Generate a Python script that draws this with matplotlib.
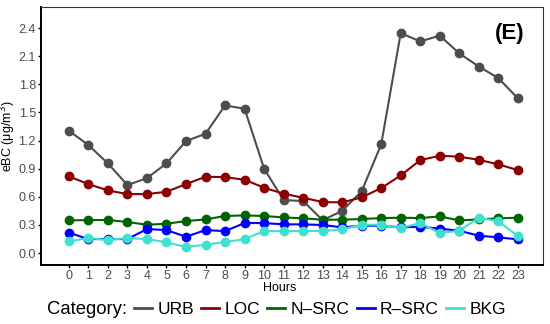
import matplotlib
matplotlib.use("Agg")
import matplotlib.pyplot as plt
from matplotlib.lines import Line2D

hours = list(range(24))
urb = [1.305, 1.152, 0.956, 0.725, 0.80, 0.956, 1.195, 1.273, 1.575, 1.54, 0.90, 0.565,
       0.555, 0.35, 0.45, 0.66, 1.16, 2.347, 2.258, 2.32, 2.13, 1.99, 1.867, 1.65]
loc = [0.818, 0.736, 0.668, 0.629, 0.629, 0.654, 0.736, 0.814, 0.81, 0.782, 0.697, 0.633,
       0.59, 0.544, 0.54, 0.594, 0.693, 0.828, 0.992, 1.038, 1.028, 0.995, 0.946, 0.885]
nsrc = [0.348, 0.352, 0.352, 0.331, 0.302, 0.313, 0.341, 0.359, 0.395, 0.402, 0.395, 0.38,
        0.37, 0.356, 0.356, 0.363, 0.373, 0.377, 0.373, 0.391, 0.348, 0.359, 0.37, 0.377]
rsrc = [0.217, 0.149, 0.149, 0.149, 0.256, 0.245, 0.174, 0.245, 0.234, 0.32, 0.32, 0.306,
        0.306, 0.299, 0.274, 0.292, 0.292, 0.274, 0.281, 0.26, 0.238, 0.185, 0.167, 0.146]
bkg = [0.124, 0.16, 0.139, 0.16, 0.149, 0.114, 0.064, 0.089, 0.117, 0.149, 0.234, 0.234,
       0.234, 0.234, 0.252, 0.302, 0.302, 0.267, 0.32, 0.213, 0.238, 0.377, 0.338, 0.181]

names = ["URB", "LOC", "N\u2013SRC", "R\u2013SRC", "BKG"]
series = [urb, loc, nsrc, rsrc, bkg]
colors = ["#4d4d4d", "#8b0000", "#006400", "#0000ff", "#40e0d0"]
yticks = [0.0, 0.3, 0.6, 0.9, 1.2, 1.5, 1.8, 2.1, 2.4]

plt.rcParams['font.family'] = ['Liberation Sans', 'DejaVu Sans']

fig = plt.figure(figsize=(5.5, 3.24), dpi=100)
ax = fig.add_axes([0.0745, 0.182, 0.9125, 0.796])

for name, vals, c in zip(names, series, colors):
    ax.plot(hours, vals, color=c, lw=1.5, marker='o', ms=6, label=name)

ax.set_xlim(-1.43, 24.28)
ax.set_ylim(-0.128, 2.624)
ax.set_xticks(hours)
ax.set_yticks(yticks)
ax.set_yticklabels([f"{v:.1f}" for v in yticks])
ax.tick_params(axis='both', labelsize=9, labelcolor='#4d4d4d', length=2.5, width=1, color='black', pad=1.2)
for s in ['left', 'bottom']:
    ax.spines[s].set_linewidth(1.4)
    ax.spines[s].set_color('black')
for s in ['top', 'right']:
    ax.spines[s].set_linewidth(0.8)
    ax.spines[s].set_color('#333333')

ax.set_xlabel("Hours", fontsize=9)
ax.xaxis.set_label_coords(0.475, -0.066)
ax.set_ylabel("eBC (\u03bcg/m$^3$)", fontsize=9)
ax.yaxis.set_label_coords(-0.045, 0.5)
ax.text(0.964, 0.899, "(E)", transform=ax.transAxes, ha='right', va='center',
        fontsize=16, fontweight='bold')

handles = [Line2D([0], [0], color=c, lw=2) for c in colors]
fig.text(47/550, 1 - 309/324, "Category:", fontsize=13.3, va='center', ha='left')
fig.legend(handles, names, loc='center left', bbox_to_anchor=(134/550, 1 - 309/324),
           ncol=5, frameon=False, fontsize=12.5, handlelength=1.04, handletextpad=0.3,
           columnspacing=0.42, borderaxespad=0, borderpad=0)

fig.savefig("out.png", dpi=100)
